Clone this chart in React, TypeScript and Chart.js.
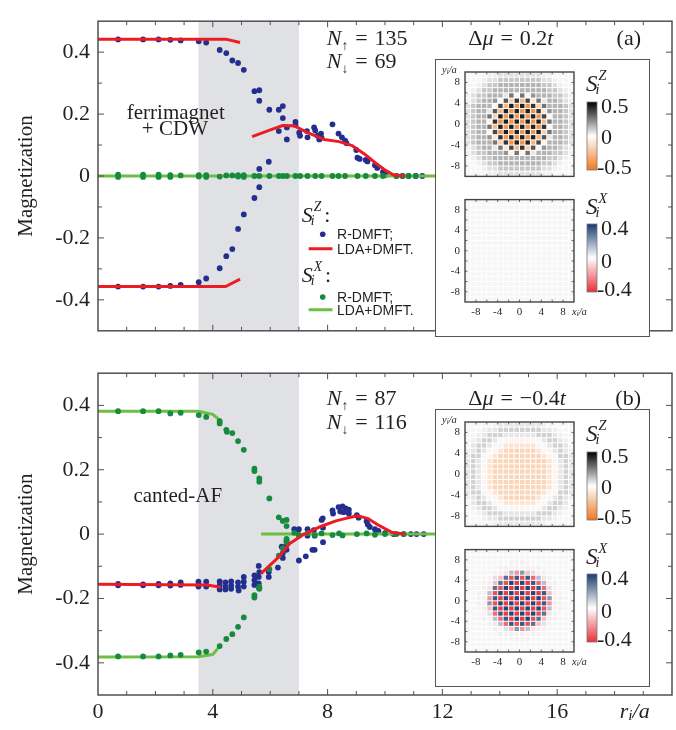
import React, { useEffect, useRef } from "react";
import { Chart, registerables } from "chart.js";

Chart.register(...registerables);

type Pt = [number, number];

const SERIF = '"Liberation Serif", "Times New Roman", serif';
const SANS = '"Liberation Sans", Arial, sans-serif';
const INK = "#231f20";
const FRAME = "#505050";
const SHADE_FILL = "#e0e1e4";
const BLUE = "#222f8e";
const RED = "#ec1c24";
const DK_GREEN = "#168a3e";
const LT_GREEN = "#6dbe45";

// ---------- main axes ----------
const R_TICKS = [0, 4, 8, 12, 16];
const M_TICKS = [-0.4, -0.2, 0, 0.2, 0.4];
const R_MIN = 0;
const R_MAX = 20;
const M_MIN = -0.5;
const M_MAX = 0.5;
const SHADE_FROM = 3.5;
const SHADE_TO = 7.0;

// ---------- panel (a): dmu = 0.2t ----------
const A_SZ_RDMFT: Pt[] = [
  [0.7, 0.441], [1.57, 0.441], [2.11, 0.441], [2.52, 0.44], [2.88, 0.438], [3.51, 0.435], [3.77, 0.431],
  [4.24, 0.407], [4.47, 0.397], [4.68, 0.373], [4.88, 0.365], [5.08, 0.343], [5.45, 0.274], [5.62, 0.277],
  [5.62, 0.243], [5.97, 0.214], [6.3, 0.214], [6.44, 0.226], [6.44, 0.187], [6.3, 0.145], [6.58, 0.118],
  [6.58, 0.157], [6.88, 0.175], [6.88, 0.165], [7.01, 0.14], [7.04, 0.13], [7.28, 0.145], [7.3, 0.125],
  [7.53, 0.157], [7.57, 0.147], [7.65, 0.13], [7.71, 0.118], [7.77, 0.137], [7.79, 0.124], [8.17, 0.167],
  [8.38, 0.137], [8.5, 0.125], [8.61, 0.114], [8.66, 0.106], [9.0, 0.084], [9.04, 0.059], [9.12, 0.055],
  [9.33, 0.052], [9.39, 0.047], [9.65, 0.035], [9.73, 0.026], [9.93, 0.013], [10.02, 0.003], [10.4, 0.0],
  [10.61, 0.0], [10.82, 0.0], [11.07, 0.0], [11.3, 0.0],
  [0.7, -0.357], [1.57, -0.357], [2.11, -0.357], [2.52, -0.355], [2.88, -0.352], [3.51, -0.343], [3.77, -0.331],
  [4.24, -0.298], [4.47, -0.259], [4.68, -0.236], [4.88, -0.171], [5.08, -0.124], [5.45, -0.071], [5.62, -0.036],
  [5.62, 0.023], [5.95, 0.046],
];
const A_SZ_LDA_UPPER: Pt[] = [[0, 0.442], [4.45, 0.442], [4.95, 0.431]];
const A_SZ_LDA_LOWER: Pt[] = [[0, -0.357], [4.45, -0.357], [4.95, -0.333]];
const A_SZ_LDA_OUTER: Pt[] = [
  [5.37, 0.127], [6.03, 0.15], [6.44, 0.163], [6.84, 0.162], [7.3, 0.14], [7.88, 0.118], [8.4, 0.111],
  [8.86, 0.098], [9.27, 0.072], [9.67, 0.042], [10.02, 0.018], [10.31, 0.003], [10.7, 0.0],
];
const A_SX_RDMFT: Pt[] = [
  [0.7, 0.004], [0.7, -0.003], [1.57, 0.004], [1.57, -0.003], [2.11, 0.004], [2.11, -0.003], [2.52, 0.003],
  [2.52, -0.003], [2.88, 0.002], [3.51, 0.003], [3.51, -0.002], [3.77, 0.003], [3.77, -0.003], [4.24, -0.002],
  [4.47, 0.002], [4.68, 0.002], [4.88, 0.003], [4.88, -0.002], [5.08, 0.003], [5.08, -0.003], [5.45, 0.0],
  [5.62, 0.0], [5.97, 0.0], [6.3, 0.0], [6.44, 0.0], [6.58, 0.0], [6.88, 0.0], [7.04, 0.0], [7.3, 0.0],
  [7.57, 0.0], [7.79, 0.0], [8.17, 0.0], [8.38, 0.0], [8.61, 0.0], [9.04, 0.0], [9.33, 0.0], [9.65, 0.0],
  [9.93, 0.0], [10.4, 0.0], [10.61, 0.0], [10.82, 0.0], [11.07, 0.0],
];
const A_SX_LDA: Pt[] = [[0, 0.0], [13, 0.0]];

// ---------- panel (b): dmu = -0.4t ----------
const B_SZ_RDMFT: Pt[] = [
  [0.7, -0.155], [0.7, -0.159], [1.57, -0.156], [1.57, -0.159], [2.11, -0.155], [2.11, -0.159], [2.52, -0.153],
  [2.52, -0.16], [2.88, -0.15], [2.88, -0.158], [3.5, -0.148], [3.5, -0.156], [3.5, -0.163], [3.77, -0.148],
  [3.77, -0.163], [4.24, -0.147], [4.24, -0.158], [4.24, -0.172], [4.44, -0.15], [4.44, -0.163], [4.44, -0.172],
  [4.64, -0.147], [4.64, -0.16], [4.64, -0.17], [4.88, -0.15], [4.88, -0.163], [4.9, -0.175], [5.08, -0.133],
  [5.08, -0.148], [5.08, -0.163], [5.45, -0.128], [5.45, -0.143], [5.45, -0.158], [5.6, -0.133], [5.6, -0.153],
  [5.62, -0.168], [5.6, -0.099], [5.62, -0.118], [5.95, -0.118], [5.95, -0.133], [6.27, -0.104], [6.4, -0.039],
  [6.44, -0.059], [6.44, -0.074], [6.57, -0.02], [6.57, -0.034], [6.57, -0.049], [6.84, 0.015], [6.96, 0.012],
  [7.0, 0.015], [7.0, -0.082], [7.24, -0.069], [7.3, 0.015], [7.3, -0.005], [7.47, -0.049], [7.55, -0.049],
  [7.52, 0.012], [7.55, -0.005], [7.79, 0.044], [7.83, 0.049], [7.84, 0.02], [7.84, -0.025], [8.17, 0.074],
  [8.19, 0.064], [8.38, 0.084], [8.52, 0.086], [8.63, 0.08], [8.74, 0.076], [8.44, 0.07], [8.56, 0.068],
  [8.74, 0.064], [9.02, 0.059], [9.08, 0.051], [9.36, 0.04], [9.4, 0.03], [9.47, 0.022], [9.65, 0.015],
  [9.77, 0.01], [10.0, 0.003], [10.3, 0.0], [10.65, 0.0], [10.9, 0.0], [11.1, 0.0], [11.35, 0.0],
];
const B_SZ_LDA_INNER: Pt[] = [[0, -0.156], [3.8, -0.158], [4.28, -0.165]];
const B_SZ_LDA_OUTER: Pt[] = [
  [5.68, -0.123], [6.32, -0.069], [6.67, -0.03], [7.19, 0.0], [7.71, 0.022], [8.29, 0.041], [8.64, 0.049],
  [9.04, 0.057], [9.39, 0.049], [9.79, 0.027], [10.25, 0.005], [10.7, 0.0],
];
const B_SX_RDMFT: Pt[] = [
  [0.7, 0.382], [1.57, 0.382], [2.11, 0.382], [2.52, 0.375], [2.88, 0.377], [3.51, 0.37], [3.77, 0.364],
  [4.24, 0.351], [4.24, 0.344], [4.47, 0.324], [4.49, 0.318], [4.68, 0.314], [4.88, 0.289], [5.08, 0.262],
  [5.45, 0.203], [5.45, 0.196], [5.62, 0.173], [5.62, 0.163], [5.97, 0.111], [6.3, 0.052], [6.44, 0.041],
  [6.57, 0.044], [6.57, 0.025],
  [0.7, -0.38], [1.57, -0.38], [2.11, -0.38], [2.52, -0.377], [2.88, -0.375], [3.51, -0.368], [3.77, -0.365],
  [4.24, -0.348], [4.47, -0.326], [4.68, -0.311], [4.88, -0.288], [5.08, -0.259], [5.45, -0.19], [5.45, -0.197],
  [5.62, -0.163], [5.62, -0.17], [5.97, -0.109], [6.3, -0.067], [6.44, -0.044], [6.57, -0.025], [6.57, -0.015],
  [6.84, 0.004], [7.0, -0.004], [7.3, 0.003], [7.55, -0.003], [7.79, 0.002], [8.17, -0.003], [8.4, 0.002],
  [8.52, -0.004], [9.02, 0.0], [9.36, 0.002], [9.65, -0.002], [10.0, 0.0], [10.4, 0.0], [10.65, 0.0],
];
const B_SX_LDA_UPPER: Pt[] = [[0, 0.382], [3.5, 0.382], [4.0, 0.372], [4.3, 0.35]];
const B_SX_LDA_LOWER: Pt[] = [[0, -0.382], [3.5, -0.381], [4.0, -0.374], [4.3, -0.342]];
const B_SX_LDA_OUTER: Pt[] = [[5.68, 0.0], [13, 0.0]];

// ---------- site maps (20 x 20 lattice, rows from y = 9.5 down to -9.5) ----------
const SITES = [
  -9.5, -8.5, -7.5, -6.5, -5.5, -4.5, -3.5, -2.5, -1.5, -0.5, 0.5, 1.5, 2.5, 3.5, 4.5, 5.5, 6.5, 7.5, 8.5, 9.5,
];
const MAP_TICKS = [-8, -4, 0, 4, 8];

// S^Z site values, one letter per site
const SZ_LEVELS: Record<string, number> = {
  ".": 0.015, u: 0.03, l: 0.06, f: 0.11, g: 0.15, e: 0.21, v: 0.05, d: 0.27, w: -0.04,
  h: 0.33, m: -0.1, k: 0.36, n: -0.18, J: 0.4, p: -0.27, K: 0.44, o: -0.4,
  s: -0.157, t: -0.1, x: -0.04, a: 0.05, G: 0.09,
};
// S^X site values, one letter per site
const SX_LEVELS: Record<string, number> = {
  ".": 0.018, B: 0.38, R: -0.38, D: 0.34, E: -0.34, F: 0.29, H: -0.29, b: 0.21, r: -0.21,
  y: 0.13, z: -0.13, c: 0.06, m: -0.06, q: 0.03, w: -0.03,
};

const A_SZ_MAP = [
  "....uulllllllluu....",
  "...ullffffffffllu...",
  "..ulffggggggggfflu..",
  ".ulffggggggggggfflu.",
  "ulffgggvdwdwegggfflu",
  "ulfggewhnJpkmdvggflu",
  "lfgggwkpKoKoJndgggfl",
  "lfggvhpKoKoKoJmeggfl",
  "lfggdnKoKoKoKokwggfl",
  "lfggwJoKoKoKoKpdggfl",
  "lfggdpKoKoKoKoJwggfl",
  "lfggwkoKoKoKoKndggfl",
  "lfggemJoKoKoKphvggfl",
  "lfgggdnJoKoKpkwgggfl",
  "ulfggvdmkpJnhweggflu",
  "ulffgggewdwdvgggfflu",
  ".ulffggggggggggfflu.",
  "..ulffggggggggfflu..",
  "...ullffffffffllu...",
  "....uulllllllluu....",
];
const A_SX_MAP = [
  "....................", "....................", "....................", "....................",
  "....................", "....................", "....................", "....................",
  "....................", "....................", "....................", "....................",
  "....................", "....................", "....................", "....................",
  "....................", "....................", "....................", "....................",
];
const B_SZ_MAP = [
  ".....uaaaaaaaau.....",
  "...uaaGGGGGGGGaau...",
  "..uaGGGaaaaaaGGGau..",
  ".uaGGa..xxxx..aGGau.",
  ".aGGa.xttttttx.aGGa.",
  "uaGa.xtsssssstx.aGau",
  "aGG.xtsssssssstx.GGa",
  "aGa.tsssssssssst.aGa",
  "aGaxtsssssssssstxaGa",
  "aGaxtsssssssssstxaGa",
  "aGaxtsssssssssstxaGa",
  "aGaxtsssssssssstxaGa",
  "aGa.tsssssssssst.aGa",
  "aGG.xtsssssssstx.GGa",
  "uaGa.xtsssssstx.aGau",
  ".aGGa.xttttttx.aGGa.",
  ".uaGGa..xxxx..aGGau.",
  "..uaGGGaaaaaaGGGau..",
  "...uaaGGGGGGGGaau...",
  ".....uaaaaaaaau.....",
];
const B_SX_MAP = [
  "....................",
  "....................",
  "........qwqw........",
  "......wqwqwqwq......",
  ".....wqmyrbzcwq.....",
  "....wczFEDEDHymq....",
  "...wqzFEBRBRDHywq...",
  "...qmFEBRBRBRDHcw...",
  "..qwyEBRBRBRBRDzqw..",
  "..wqrDRBRBRBRBEbwq..",
  "..qwbEBRBRBRBRDrqw..",
  "..wqzDRBRBRBRBEywq..",
  "...wcHDRBRBRBEFmq...",
  "...qwyHDRBRBEFzqw...",
  "....qmyHDEDEFzcw....",
  ".....qwczbrymqw.....",
  "......qwqwqwqw......",
  "........wqwq........",
  "....................",
  "....................",
];

// colour ends of the two scales
const SZ_POS = [0, 0, 0];
const SZ_NEG = [242, 120, 30];
const SX_POS = [24, 60, 110];
const SX_NEG = [232, 48, 60];

// ---------- text helpers ----------
type Part = { t: string; it?: boolean; k?: number; dy?: number; dx?: number; sans?: boolean };

function fontOf(p: Part, size: number) {
  return `${p.it ? "italic " : ""}${(size * (p.k ?? 1)).toFixed(1)}px ${p.sans ? SANS : SERIF}`;
}

function drawParts(ctx: CanvasRenderingContext2D, parts: Part[], x: number, y: number, size: number, align = "left") {
  let w = 0;
  for (const p of parts) {
    ctx.font = fontOf(p, size);
    w += ctx.measureText(p.t).width + (p.dx ?? 0);
  }
  let cx = align === "center" ? x - w / 2 : align === "right" ? x - w : x;
  for (const p of parts) {
    ctx.font = fontOf(p, size);
    cx += p.dx ?? 0;
    ctx.fillText(p.t, cx, y + (p.dy ?? 0));
    cx += ctx.measureText(p.t).width;
  }
  return cx;
}

// S with lower index i and an upper component letter
function drawSpin(ctx: CanvasRenderingContext2D, letter: string, x: number, y: number, size: number) {
  ctx.font = `italic ${size}px ${SERIF}`;
  ctx.fillText("S", x, y);
  const w = ctx.measureText("S").width;
  ctx.font = `italic ${(size * 0.62).toFixed(1)}px ${SERIF}`;
  ctx.fillText(letter, x + w + 1, y - size * 0.5);
  const wl = ctx.measureText(letter).width;
  ctx.fillText("i", x + w - 2, y + size * 0.14);
  return x + w + 1 + wl;
}

// N with a spin arrow as lower index, then "= value"
function nCount(arrow: string, value: string): Part[] {
  return [{ t: "N", it: true }, { t: arrow, k: 0.62, dy: 5 }, { t: "=", dx: 7 }, { t: value, dx: 7 }];
}

function shift(value: string): Part[] {
  return [{ t: "Δ" }, { t: "μ", it: true }, { t: "=", dx: 7 }, { t: value, dx: 7 }, { t: "t", it: true }];
}

const toXY = (a: Pt[]) => a.map(([x, y]) => ({ x, y }));

const dots = (a: Pt[], color: string, order: number) => ({
  data: toXY(a),
  showLine: false,
  backgroundColor: color,
  borderWidth: 0,
  pointRadius: 2.9,
  pointHoverRadius: 2.9,
  order,
});

const curve = (a: Pt[], color: string, order: number) => ({
  data: toXY(a),
  showLine: true,
  borderColor: color,
  borderWidth: 3,
  borderJoinStyle: "round",
  pointRadius: 0,
  pointHoverRadius: 0,
  fill: false,
  order,
});

// ---------- main panel ----------
type PanelProps = {
  top: number;
  height: number;
  axisH: number;
  showR: boolean;
  datasets: any[];
  overlay: (ctx: CanvasRenderingContext2D, X: (v: number) => number, Y: (v: number) => number, area: any) => void;
};

function Panel(p: PanelProps) {
  const ref = useRef<HTMLCanvasElement>(null);
  useEffect(() => {
    const decor = {
      id: "decor",
      beforeDatasetsDraw(chart: any) {
        const { ctx, chartArea: a, scales } = chart;
        const x0 = scales.x.getPixelForValue(SHADE_FROM);
        const x1 = scales.x.getPixelForValue(SHADE_TO);
        ctx.save();
        ctx.fillStyle = SHADE_FILL;
        ctx.fillRect(x0, a.top, x1 - x0, a.bottom - a.top);
        ctx.restore();
      },
      afterDatasetsDraw(chart: any) {
        const { ctx, chartArea: a, scales } = chart;
        const X = (v: number) => scales.x.getPixelForValue(v);
        const Y = (v: number) => scales.y.getPixelForValue(v);
        ctx.save();
        ctx.strokeStyle = FRAME;
        ctx.lineWidth = 1;
        ctx.beginPath();
        for (let v = R_MIN + 1; v < R_MAX; v += 1) {
          const px = X(v);
          const len = v % 4 === 0 ? 6 : 4;
          ctx.moveTo(px, a.bottom);
          ctx.lineTo(px, a.bottom - len);
          ctx.moveTo(px, a.top);
          ctx.lineTo(px, a.top + len);
        }
        for (let k = -4; k <= 4; k++) {
          const py = Y(k / 10);
          const len = k % 2 === 0 ? 6 : 4;
          ctx.moveTo(a.left, py);
          ctx.lineTo(a.left + len, py);
          ctx.moveTo(a.right, py);
          ctx.lineTo(a.right - len, py);
        }
        ctx.stroke();
        ctx.lineWidth = 1.5;
        ctx.strokeRect(a.left, a.top, a.right - a.left, a.bottom - a.top);
        ctx.fillStyle = INK;
        ctx.textBaseline = "alphabetic";
        p.overlay(ctx, X, Y, a);
        ctx.restore();
      },
    };
    const chart = new Chart(ref.current!, {
      type: "scatter",
      data: { datasets: p.datasets },
      options: {
        animation: false,
        responsive: false,
        devicePixelRatio: 1,
        events: [],
        layout: { padding: { left: 0, right: 4, top: 6, bottom: 0 } },
        plugins: { legend: { display: false }, tooltip: { enabled: false } },
        scales: {
          x: {
            type: "linear",
            min: R_MIN,
            max: R_MAX,
            grid: { display: false, drawTicks: false },
            border: { display: false },
            afterBuildTicks: (s: any) => {
              s.ticks = R_TICKS.map((value) => ({ value }));
            },
            ticks: {
              display: p.showR,
              padding: 4,
              font: { family: SERIF, size: 22 },
              color: INK,
              callback: (v: any) => String(v),
            },
            afterFit: (s: any) => {
              s.height = p.axisH;
            },
          },
          y: {
            type: "linear",
            min: M_MIN,
            max: M_MAX,
            grid: { display: false, drawTicks: false },
            border: { display: false },
            afterBuildTicks: (s: any) => {
              s.ticks = M_TICKS.map((value) => ({ value }));
            },
            ticks: {
              padding: 8,
              font: { family: SERIF, size: 22 },
              color: INK,
              callback: (v: any) => (Math.abs(v) < 1e-9 ? "0" : Number(v).toFixed(1)),
            },
            title: {
              display: true,
              text: "Magnetization",
              font: { family: SERIF, size: 21 },
              color: INK,
              padding: { top: 14, bottom: 0 },
            },
            afterFit: (s: any) => {
              s.width = 98;
            },
          },
        },
      } as any,
      plugins: [decor],
    });
    return () => chart.destroy();
  }, []);
  return (
    <canvas
      ref={ref}
      width={676}
      height={p.height}
      style={{ position: "absolute", left: 0, top: p.top, width: 676, height: p.height }}
    />
  );
}

// ---------- site map ----------
type MapProps = {
  left: number;
  top: number;
  width: number;
  height: number;
  area: [number, number, number, number];
  rows: string[];
  levels: Record<string, number>;
  vmax: number;
  pos: number[];
  neg: number[];
  bar: [number, number, number, number];
  barLabels: [string, number, number][];
  spin: string;
  spinAt: [number, number];
  showX: boolean;
};

function SiteMap(p: MapProps) {
  const ref = useRef<HTMLCanvasElement>(null);
  useEffect(() => {
    const [l, t, r, b] = p.area;
    const colour = (v: number) => {
      const s = Math.max(-1, Math.min(1, v / p.vmax));
      const c = s >= 0 ? p.pos : p.neg;
      const a = Math.abs(s);
      const mix = (k: number) => Math.round(255 + (c[k] - 255) * a);
      return `rgb(${mix(0)},${mix(1)},${mix(2)})`;
    };
    const cells = {
      id: "cells",
      beforeDatasetsDraw(chart: any) {
        const { ctx, scales } = chart;
        const X = (v: number) => scales.x.getPixelForValue(v);
        const Y = (v: number) => scales.y.getPixelForValue(v);
        ctx.save();
        p.rows.forEach((row, i) => {
          const yc = SITES[SITES.length - 1 - i];
          [...row].forEach((ch, j) => {
            const xc = SITES[j];
            const v = p.levels[ch] ?? 0;
            const x0 = X(xc - 0.5);
            const x1 = X(xc + 0.5);
            const y0 = Y(yc + 0.5);
            const y1 = Y(yc - 0.5);
            ctx.fillStyle = colour(v);
            ctx.fillRect(x0 + 0.5, y0 + 0.5, x1 - x0 - 1, y1 - y0 - 1);
          });
        });
        ctx.restore();
      },
      afterDraw(chart: any) {
        const { ctx, chartArea: a, scales } = chart;
        const X = (v: number) => scales.x.getPixelForValue(v);
        const Y = (v: number) => scales.y.getPixelForValue(v);
        ctx.save();
        ctx.strokeStyle = "#444";
        ctx.lineWidth = 0.8;
        ctx.beginPath();
        for (let v = -8; v <= 8; v += 2) {
          ctx.moveTo(X(v), a.top);
          ctx.lineTo(X(v), a.top + 2.5);
          ctx.moveTo(X(v), a.bottom);
          ctx.lineTo(X(v), a.bottom - 2.5);
          ctx.moveTo(a.left, Y(v));
          ctx.lineTo(a.left + 2.5, Y(v));
          ctx.moveTo(a.right, Y(v));
          ctx.lineTo(a.right - 2.5, Y(v));
        }
        ctx.stroke();
        ctx.lineWidth = 1.4;
        ctx.strokeRect(a.left, a.top, a.right - a.left, a.bottom - a.top);

        // colour bar
        const [bx0, by0, bx1, by1] = p.bar;
        const g = ctx.createLinearGradient(0, by0, 0, by1);
        for (let k = 0; k <= 10; k++) {
          g.addColorStop(k / 10, colour(p.vmax * (1 - k / 5)));
        }
        ctx.fillStyle = g;
        ctx.fillRect(bx0, by0, bx1 - bx0, by1 - by0);
        ctx.strokeStyle = "#777";
        ctx.lineWidth = 0.8;
        ctx.strokeRect(bx0, by0, bx1 - bx0, by1 - by0);

        ctx.fillStyle = INK;
        ctx.textBaseline = "middle";
        ctx.font = `22px ${SERIF}`;
        for (const [txt, tx, ty] of p.barLabels) ctx.fillText(txt, tx, ty);
        ctx.textBaseline = "alphabetic";
        drawSpin(ctx, p.spin, p.spinAt[0], p.spinAt[1], 23);

        ctx.textBaseline = "middle";
        if (p.showX) {
          drawParts(ctx, [{ t: "x", it: true }, { t: "i", it: true, k: 0.7, dy: 2 }, { t: "/a", it: true }], l + 107, b + 10.5, 10.5);
        } else {
          drawParts(ctx, [{ t: "y", it: true }, { t: "i", it: true, k: 0.7, dy: 2 }, { t: "/a", it: true }], 6, 10, 10.5);
        }
        ctx.restore();
      },
    };
    const chart = new Chart(ref.current!, {
      type: "scatter",
      data: { datasets: [] },
      options: {
        animation: false,
        responsive: false,
        devicePixelRatio: 1,
        events: [],
        layout: { padding: { left: 0, right: p.width - r, top: t, bottom: 0 } },
        plugins: { legend: { display: false }, tooltip: { enabled: false } },
        scales: {
          x: {
            type: "linear",
            min: -10,
            max: 10,
            grid: { display: false, drawTicks: false },
            border: { display: false },
            afterBuildTicks: (s: any) => {
              s.ticks = MAP_TICKS.map((value) => ({ value }));
            },
            ticks: { display: p.showX, padding: 4, font: { family: SERIF, size: 11 }, color: INK },
            afterFit: (s: any) => {
              s.height = p.height - b;
            },
          },
          y: {
            type: "linear",
            min: -10,
            max: 10,
            grid: { display: false, drawTicks: false },
            border: { display: false },
            afterBuildTicks: (s: any) => {
              s.ticks = MAP_TICKS.map((value) => ({ value }));
            },
            ticks: { padding: 5, font: { family: SERIF, size: 11 }, color: INK },
            afterFit: (s: any) => {
              s.width = l;
            },
          },
        },
      } as any,
      plugins: [cells],
    });
    return () => chart.destroy();
  }, []);
  return (
    <canvas
      ref={ref}
      width={p.width}
      height={p.height}
      style={{ position: "absolute", left: p.left, top: p.top, width: p.width, height: p.height }}
    />
  );
}

function Inset({ top, sz, sx }: { top: number; sz: string[]; sx: string[] }) {
  return (
    <>
      <div
        style={{
          position: "absolute",
          left: 435,
          top,
          width: 215,
          height: 278,
          border: "1.5px solid #555",
          background: "#fff",
          boxSizing: "border-box",
        }}
      />
      <SiteMap
        left={436}
        top={top + 1}
        width={213}
        height={128}
        area={[29, 12, 138, 122]}
        rows={sz}
        levels={SZ_LEVELS}
        vmax={0.5}
        pos={SZ_POS}
        neg={SZ_NEG}
        bar={[151, 42, 161, 110]}
        barLabels={[["0.5", 165, 47], ["0", 165, 78], ["-0.5", 161, 108]]}
        spin="Z"
        spinAt={[150, 31]}
        showX={false}
      />
      <SiteMap
        left={436}
        top={top + 129}
        width={213}
        height={140}
        area={[29, 5, 138, 114]}
        rows={sx}
        levels={SX_LEVELS}
        vmax={0.4}
        pos={SX_POS}
        neg={SX_NEG}
        bar={[151, 36, 161, 104]}
        barLabels={[["0.4", 165, 41], ["0", 165, 74], ["-0.4", 161, 102]]}
        spin="X"
        spinAt={[150, 26]}
        showX={true}
      />
    </>
  );
}

const panelA = [
  curve(A_SZ_LDA_UPPER, RED, 0),
  curve(A_SZ_LDA_LOWER, RED, 0),
  curve(A_SZ_LDA_OUTER, RED, 0),
  dots(A_SX_RDMFT, DK_GREEN, 1),
  curve(A_SX_LDA, LT_GREEN, 2),
  dots(A_SZ_RDMFT, BLUE, 3),
];

const panelB = [
  curve(B_SZ_LDA_INNER, RED, 0),
  curve(B_SZ_LDA_OUTER, RED, 0),
  dots(B_SX_RDMFT, DK_GREEN, 1),
  curve(B_SX_LDA_UPPER, LT_GREEN, 2),
  curve(B_SX_LDA_LOWER, LT_GREEN, 2),
  curve(B_SX_LDA_OUTER, LT_GREEN, 2),
  dots(B_SZ_RDMFT, BLUE, 3),
];

function overlayA(ctx: CanvasRenderingContext2D, X: (v: number) => number, Y: (v: number) => number) {
  drawParts(ctx, nCount("↑", "135"), X(7.97), Y(0.424), 22);
  drawParts(ctx, nCount("↓", "69"), X(7.97), Y(0.35), 22);
  drawParts(ctx, shift("0.2"), X(12.9), Y(0.424), 22);
  drawParts(ctx, [{ t: "(a)" }], X(18.92), Y(0.424), 22, "right");
  drawParts(ctx, [{ t: "ferrimagnet" }], X(2.71), Y(0.185), 21, "center");
  drawParts(ctx, [{ t: "+ CDW" }], X(2.68), Y(0.132), 21, "center");

  // legend
  const lx = X(7.1);
  let e = drawSpin(ctx, "Z", lx, Y(-0.147), 22);
  drawParts(ctx, [{ t: ":" }], e + 3, Y(-0.147), 22);
  e = drawSpin(ctx, "X", lx, Y(-0.341), 22);
  drawParts(ctx, [{ t: ":" }], e + 3, Y(-0.341), 22);

  const rows: [number, string, boolean][] = [
    [-0.188, BLUE, true],
    [-0.235, RED, false],
    [-0.391, DK_GREEN, true],
    [-0.432, LT_GREEN, false],
  ];
  ctx.textBaseline = "middle";
  for (const [m, col, isDot] of rows) {
    const py = Y(m);
    if (isDot) {
      ctx.fillStyle = col;
      ctx.beginPath();
      ctx.arc(X(7.83), py, 2.8, 0, Math.PI * 2);
      ctx.fill();
    } else {
      ctx.strokeStyle = col;
      ctx.lineWidth = 3;
      ctx.beginPath();
      ctx.moveTo(X(7.34), py);
      ctx.lineTo(X(8.17), py);
      ctx.stroke();
    }
    ctx.fillStyle = INK;
    drawParts(ctx, [{ t: isDot ? "R-DMFT;" : "LDA+DMFT.", sans: true }], X(8.33), py + 1, 14);
  }
  ctx.textBaseline = "alphabetic";
}

function overlayB(ctx: CanvasRenderingContext2D, X: (v: number) => number, Y: (v: number) => number, a: any) {
  drawParts(ctx, nCount("↑", "87"), X(7.97), Y(0.402), 22);
  drawParts(ctx, nCount("↓", "116"), X(7.97), Y(0.328), 22);
  drawParts(ctx, shift("−0.4"), X(12.9), Y(0.402), 22);
  drawParts(ctx, [{ t: "(b)" }], X(18.92), Y(0.402), 22, "right");
  drawParts(ctx, [{ t: "canted-AF" }], X(2.78), Y(0.1), 21, "center");
  ctx.textBaseline = "middle";
  drawParts(ctx, [{ t: "r", it: true }, { t: "i", it: true, k: 0.7, dy: 4 }, { t: "/a", it: true }], X(18.7), a.bottom + 17, 22, "center");
  ctx.textBaseline = "alphabetic";
}

export default function App() {
  return (
    <div style={{ position: "absolute", left: 0, top: 0, width: 676, height: 730, background: "#fff", overflow: "hidden" }}>
      <Panel top={0} height={352} axisH={6} showR={false} datasets={panelA} overlay={overlayA} />
      <Panel top={352} height={378} axisH={35} showR={true} datasets={panelB} overlay={overlayB} />
      <Inset top={59} sz={A_SZ_MAP} sx={A_SX_MAP} />
      <Inset top={409} sz={B_SZ_MAP} sx={B_SX_MAP} />
    </div>
  );
}
